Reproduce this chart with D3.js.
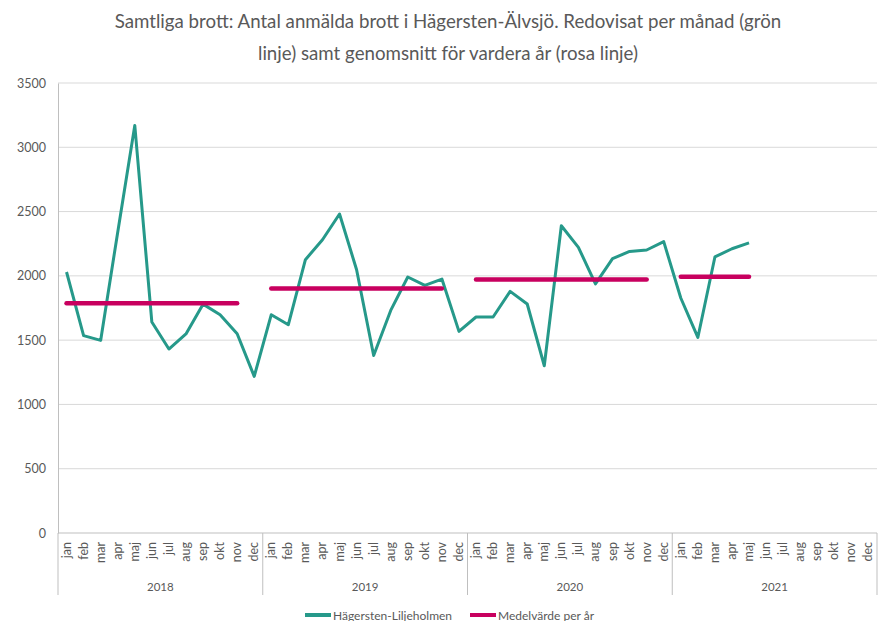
<!DOCTYPE html>
<html>
<head>
<meta charset="utf-8">
<script src="https://cdn.jsdelivr.net/npm/d3@7"></script>
<style>
  body { margin: 0; background: #fff; }
  text { font-family: "Lato", "Open Sans", sans-serif; fill: #595959; }
</style>
</head>
<body>
<div id="chart"></div>
<script>
var titleLines = ["Samtliga brott: Antal anmälda brott i Hägersten-Älvsjö. Redovisat per månad (grön",
                  "linje) samt genomsnitt för vardera år (rosa linje)"];
var years = ["2018", "2019", "2020", "2021"];
var months = ["jan", "feb", "mar", "apr", "maj", "jun", "jul", "aug", "sep", "okt", "nov", "dec"];

// anmälda brott per månad, 2018 - maj 2021
var values2018 = [2030, 1535, 1498, 2340, 3170, 1641, 1431, 1548, 1780, 1698, 1550, 1218];
var values2019 = [1698, 1620, 2126, 2281, 2481, 2048, 1381, 1731, 1991, 1926, 1975, 1568];
var values2020 = [1680, 1680, 1879, 1781, 1301, 2390, 2222, 1937, 2134, 2190, 2201, 2266];
var values2021 = [1828, 1521, 2147, 2211, 2256];

// medelvärde per år och vilka månader linjen spänner över
var yearAvg = [1787, 1902, 1972, 1993];
var avgFirst = [0, 0, 0, 0];
var avgLast = [10, 10, 10, 4];

var yTicks = [0, 500, 1000, 1500, 2000, 2500, 3000, 3500];
var legendLabels = ["Hägersten-Liljeholmen", "Medelvärde per år"];

var green = "#26998a";
var pink = "#c8005f";

var W = 879, H = 621;
var margin = { top: 83, right: 2, bottom: 88, left: 58 };
var width = W - margin.left - margin.right;
var height = H - margin.top - margin.bottom;

var svg = d3.select("#chart").append("svg")
    .attr("width", W)
    .attr("height", H);

// titel
svg.selectAll(".title").data(titleLines).enter().append("text")
    .attr("class", "title")
    .attr("x", 448)
    .attr("y", function(d, i) { return 28 + i * 32; })
    .attr("text-anchor", "middle")
    .style("font-size", "18.7px")
    .text(function(d) { return d; });

var g = svg.append("g").attr("transform", "translate(" + margin.left + "," + margin.top + ")");

// kategorier: år|månad
var cats = [];
years.forEach(function(y) { months.forEach(function(m) { cats.push(y + "|" + m); }); });

var x = d3.scaleBand().domain(cats).range([0, width]).padding(0);
var y = d3.scaleLinear().domain([0, 3500]).range([height, 0]);

// rutnät
g.selectAll(".grid").data(yTicks.slice(1)).enter().append("line")
    .attr("x1", 0).attr("x2", width)
    .attr("y1", function(d) { return y(d); })
    .attr("y2", function(d) { return y(d); })
    .attr("stroke", "#d9d9d9").attr("stroke-width", 1);

// y-axel
var yAxis = g.append("g").call(d3.axisLeft(y).tickValues(yTicks).tickFormat(d3.format("d")).tickSize(0).tickPadding(12));
yAxis.select(".domain").attr("stroke", "#bfbfbf");
yAxis.selectAll("text").style("font-size", "12.5px");

// x-axel: baslinje + årsavskiljare
g.append("line").attr("x1", 0).attr("x2", width).attr("y1", height).attr("y2", height)
    .attr("stroke", "#bfbfbf");
var yearBounds = d3.range(years.length + 1);
g.selectAll(".ysep").data(yearBounds).enter().append("line")
    .attr("x1", function(d) { return d * 12 * x.bandwidth(); })
    .attr("x2", function(d) { return d * 12 * x.bandwidth(); })
    .attr("y1", height).attr("y2", height + 62)
    .attr("stroke", "#bfbfbf");

// månadsetiketter
g.selectAll(".mlab").data(cats).enter().append("text")
    .attr("transform", function(d) {
        return "translate(" + (x(d) + x.bandwidth() / 2 + 4) + "," + (height + 9) + ") rotate(-90)";
    })
    .attr("text-anchor", "end")
    .style("font-size", "12.5px")
    .text(function(d) { return d.split("|")[1]; });

// årsetiketter
g.selectAll(".ylab").data(years).enter().append("text")
    .attr("x", function(d, i) { return (i * 12 + 6) * x.bandwidth(); })
    .attr("y", height + 58)
    .attr("text-anchor", "middle")
    .style("font-size", "11.5px")
    .text(function(d) { return d; });

// grön linje
var allValues = [values2018, values2019, values2020, values2021];
var series = [];
allValues.forEach(function(arr, yi) {
    arr.forEach(function(v, mi) { series.push({ c: years[yi] + "|" + months[mi], v: v }); });
});
var line = d3.line()
    .x(function(d) { return x(d.c) + x.bandwidth() / 2; })
    .y(function(d) { return y(d.v); });

g.append("path").datum(series)
    .attr("d", line)
    .attr("fill", "none")
    .attr("stroke", green)
    .attr("stroke-width", 3)
    .attr("stroke-linejoin", "round");

// rosa linjer
yearAvg.forEach(function(a, yi) {
    var pts = d3.range(avgFirst[yi], avgLast[yi] + 1).map(function(mi) {
        return { c: years[yi] + "|" + months[mi], v: a };
    });
    g.append("path").datum(pts)
        .attr("d", line)
        .attr("fill", "none")
        .attr("stroke", pink)
        .attr("stroke-width", 4.5)
        .attr("stroke-linecap", "round");
});

// legend
var legend = svg.append("g").attr("transform", "translate(305,615)");
var lg = legend.selectAll(".lg").data(legendLabels).enter().append("g")
    .attr("transform", function(d, i) { return "translate(" + (i * 165) + ",0)"; });
lg.append("line").attr("x1", 0).attr("x2", 26).attr("y1", 0).attr("y2", 0)
    .attr("stroke", function(d, i) { return i === 0 ? green : pink; })
    .attr("stroke-width", 4);
lg.append("text").attr("x", 28).attr("y", 4.5)
    .style("font-size", "12px")
    .text(function(d) { return d; });
</script>
</body>
</html>
